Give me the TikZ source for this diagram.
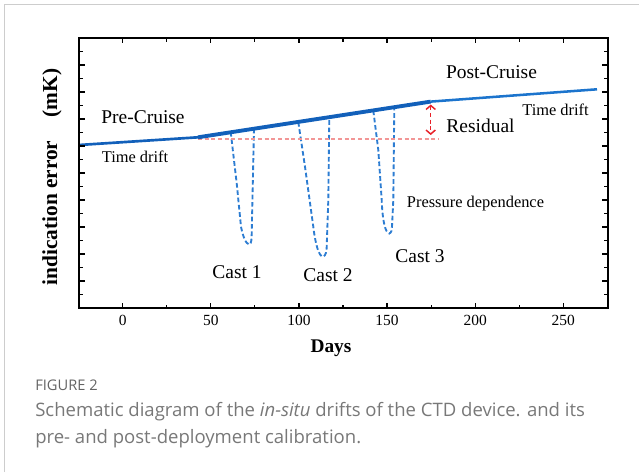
\documentclass[tikz,border=0pt]{standalone}
\usepackage{fontspec}
\setmainfont{Liberation Serif}
\newfontfamily\capfont{Open Sans}
\usetikzlibrary{arrows.meta}
\definecolor{lineblue}{RGB}{18,96,186}
\definecolor{lineblueB}{RGB}{28,116,205}
\definecolor{castblue}{RGB}{45,125,210}
\definecolor{pinkd}{RGB}{242,150,150}
\definecolor{redd}{RGB}{232,32,40}
\definecolor{framegray}{RGB}{205,205,205}
\definecolor{capgray}{RGB}{100,100,100}
\definecolor{captext}{RGB}{120,120,120}
\tikzset{
  axisline/.style={line width=1.3pt,black},
  tickmark/.style={line width=0.9pt,black},
  castline/.style={castblue,line width=1.4pt,dash pattern=on 3.5pt off 2pt},
  lbl/.style={inner sep=0pt,font=\fontsize{14.6}{16}\selectfont},
  slbl/.style={inner sep=0pt,font=\fontsize{12.3}{14}\selectfont},
  ticklbl/.style={inner sep=0pt,font=\fontsize{11.6}{13}\selectfont},
}
\begin{document}
\begin{tikzpicture}[x=0.75pt,y=-0.75pt]
\useasboundingbox (0,0) rectangle (639,472);
% frame
\draw[framegray,line width=0.8pt] (4.5,472) -- (4.5,4.5) -- (639,4.5);
% casts (drawn under the drift line)
\draw[castline] (230.7,132) -- (236.7,183.3) -- (241,226.7) .. controls (243,237) and (246,244) .. (249.3,244.5) .. controls (251.5,244) and (251.7,238) .. (251.7,233.3) -- (254,128.5);
\draw[castline] (298.3,122) -- (305,166.7) -- (313.3,226.7) .. controls (315.5,245) and (319,256.5) .. (323,256.7) .. controls (326,256) and (326.7,250) .. (326.7,246.7) -- (328.3,200) -- (329.3,117.3);
\draw[castline] (373.3,110.5) -- (378.3,150) -- (381.7,200) .. controls (382.5,222) and (385.5,233) .. (389.3,233.5) .. controls (391.5,233) and (392,229) .. (392,226.7) -- (393.3,200) -- (394.3,107.2);
% reference (pink) line
\draw[pinkd,line width=0.8pt,dash pattern=on 3pt off 2pt] (198,139) -- (439,139);
% drift line
\coordinate (p0) at (79,145);
\coordinate (p1) at (198,137.3);
\coordinate (p2) at (430.7,101.6);
\coordinate (p3) at (597,89.3);
\draw[lineblue,line width=2pt] (p0) -- (p1);
\draw[lineblue,line width=2.9pt] (p1) -- (p2);
\draw[lineblueB,line width=1.9pt] (p2) -- (p3);
% residual arrow
\coordinate (ra) at (430.7,104.5);
\coordinate (rb) at (430.7,135);
\draw[redd,line width=1.1pt,dash pattern=on 3pt off 2pt,{Straight Barb[length=3pt,width=7pt]}-{Straight Barb[length=3pt,width=7pt]}] (ra) -- (rb);
% axes box
\draw[axisline] (79,38) rectangle (608,308);
% y ticks
\foreach \k in {1,...,9}{
  \draw[tickmark] (79,38+27*\k) -- ++(6,0);
  \draw[tickmark] (608,38+27*\k) -- ++(-6,0);
}
\foreach \k in {0,...,9}{
  \draw[tickmark] (79,51.5+27*\k) -- ++(4,0);
  \draw[tickmark] (608,51.5+27*\k) -- ++(-4,0);
}
% x ticks
\foreach \k in {0,2,...,10}{
  \draw[tickmark] (122.7+44.06*\k,308) -- ++(0,-5);
  \draw[tickmark] (122.7+44.06*\k,38) -- ++(0,5);
}
\foreach \k in {1,3,...,9}{
  \draw[tickmark] (122.7+44.06*\k,308) -- ++(0,-3);
  \draw[tickmark] (122.7+44.06*\k,38) -- ++(0,4);
}
\foreach \d/\k in {0/0,50/2,100/4,150/6,200/8,250/10}{
  \node[ticklbl] (t\d) at (122.7+44.06*\k,320.5) {\d};
}
% labels
\node[lbl] (pre) at (143,117.5) {Pre-Cruise};
\node[slbl] (td1) at (135,156.5) {Time drift};
\node[lbl] (post) at (491.5,72.5) {Post-Cruise};
\node[slbl] (td2) at (555.5,110) {Time drift};
\node[lbl] (res) at (480.5,125.5) {Residual};
\node[lbl] (c1) at (237,272.5) {Cast 1};
\node[lbl] (c2) at (328,275.5) {Cast 2};
\node[lbl] (c3) at (420,256.5) {Cast 3};
\node[slbl] (pd) at (475.5,204) {Pressure dependence};
\node[inner sep=0pt,font=\fontsize{14.5}{16}\selectfont\bfseries] (days) at (331,348) {Days};
\node[inner sep=0pt,rotate=90,font=\fontsize{16}{18}\selectfont\bfseries] (ylab) at (52,177) {indication error\hspace{1.1em}(mK)};
% caption
\node[anchor=base west,inner sep=0pt,text=capgray,font=\capfont\fontsize{11}{13}\selectfont] (fig) at (35,390.5) {FIGURE 2};
\node[anchor=base west,inner sep=0pt,text=captext,font=\capfont\fontsize{13.9}{16}\selectfont] (cap1) at (35,416) {Schematic diagram of the \textit{in-situ} drifts of the CTD device. and its};
\node[anchor=base west,inner sep=0pt,text=captext,font=\capfont\fontsize{13.9}{16}\selectfont] (cap2) at (35,443) {pre- and post-deployment calibration.};
\end{tikzpicture}
\end{document}
